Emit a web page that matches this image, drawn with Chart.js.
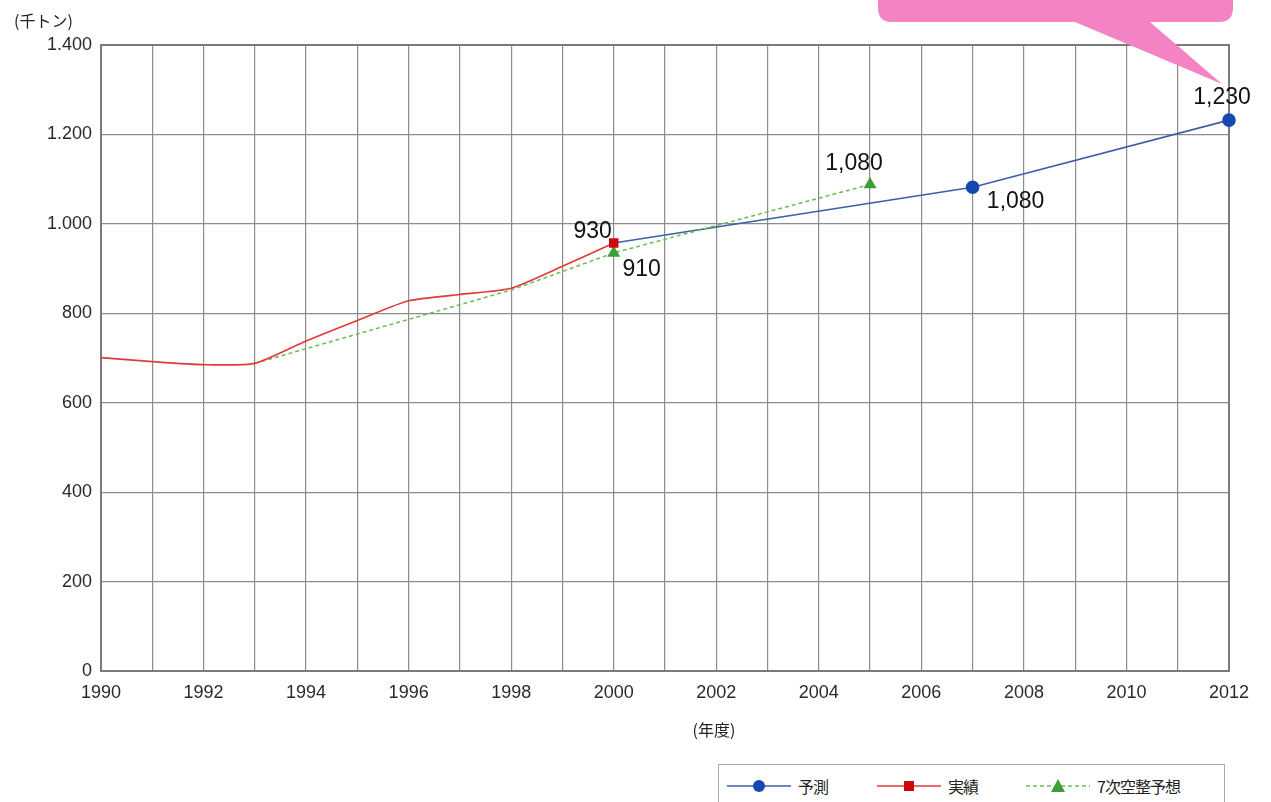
<!DOCTYPE html>
<html><head><meta charset="utf-8">
<script src="https://cdn.jsdelivr.net/npm/chart.js@4"></script>
<style>
html,body{margin:0;padding:0;background:#fff;}
#wrap{position:relative;width:1271px;height:802px;overflow:hidden;}
#legend{position:absolute;left:718px;top:764px;width:507px;height:50px;border:1px solid #aaa;box-sizing:border-box;background:#fff;font-family:"Noto Sans CJK JP","Liberation Sans",sans-serif;font-size:16px;color:#222;}
.li{position:absolute;top:9px;height:24px;display:flex;align-items:center;letter-spacing:-1px;}
.li svg{margin-right:5px;}
</style></head>
<body><div id="wrap"><canvas id="c" width="1271" height="802"></canvas>
<div id="legend"></div></div>
<script>
// ---- data ----
const years = [1990,1991,1992,1993,1994,1995,1996,1997,1998,1999,2000,2001,2002,2003,2004,2005,2006,2007,2008,2009,2010,2011,2012];
const forecastYears = [2000, 2007, 2012];
const forecastValues = [957, 1082, 1232];
const actualYears = [1990,1991,1992,1993,1994,1995,1996,1997,1998,1999,2000];
const actualValues = [701, 692, 685, 688, 738, 784, 828, 842, 856, 905, 957];
const plan7Years = [1993, 1998, 2000, 2005];
const plan7Values = [688, 852, 935, 1088];
const seriesNames = ['予測', '実績', '7次空整予想'];
const yTickValues = [0,200,400,600,800,1000,1200,1400];
const xTickLabels = years.filter(y => y % 2 === 0);
// label texts shown next to points
const forecastLabels = ['', '1,080', '1,230'];
const actualLabels = ['', '', '', '', '', '', '', '', '', '', '930'];
const plan7Labels = ['', '', '910', '1,080'];

const toXY = (xs, vs) => xs.map((x, i) => ({x: x, y: vs[i]}));

const labelPlacement = {
  0: [null, {dx: 43, dy: 14}, {dx: -7, dy: -22}],
  1: {10: {dx: -21, dy: -11}},
  2: [null, null, {dx: 28, dy: 17}, {dx: -16, dy: -21}]
};

const labelPlugin = {
  id: 'labels',
  afterDatasetsDraw(chart) {
    const ctx = chart.ctx;
    const sets = [forecastLabels, actualLabels, plan7Labels];
    ctx.save();
    ctx.font = '23px "Liberation Sans", Arial, sans-serif';
    ctx.fillStyle = '#111';
    ctx.textAlign = 'center';
    ctx.textBaseline = 'middle';
    sets.forEach((labs, di) => {
      const meta = chart.getDatasetMeta(di);
      labs.forEach((t, i) => {
        if (!t) return;
        const p = meta.data[i];
        const off = labelPlacement[di][i];
        ctx.fillText(t, p.x + off.dx, p.y + off.dy);
      });
    });
    ctx.restore();
  }
};

const decoPlugin = {
  id: 'deco',
  beforeDraw(chart) {
    const ctx = chart.ctx;
    ctx.save();
    ctx.fillStyle = '#fff';
    ctx.fillRect(0, 0, chart.width, chart.height);
    ctx.restore();
  },
  beforeDatasetsDraw(chart) {
    const ctx = chart.ctx;
    const a = chart.chartArea;
    ctx.save();
    ctx.strokeStyle = '#7a7a7a';
    ctx.lineWidth = 2;
    ctx.strokeRect(a.left, a.top, a.right - a.left, a.bottom - a.top);
    ctx.restore();
  },
  afterDraw(chart) {
    const ctx = chart.ctx;
    ctx.save();
    // axis titles
    ctx.fillStyle = '#222';
    ctx.font = '16px "Noto Sans CJK JP", sans-serif';
    ctx.textAlign = 'left';
    ctx.textBaseline = 'middle';
    ctx.fillText('(千トン)', 14, 21);
    ctx.textAlign = 'center';
    ctx.fillText('(年度)', 714, 730);
    // pink callout
    ctx.fillStyle = '#F483C4';
    const x0 = 878, x1 = 1233, y0 = -30, y1 = 22, r = 14;
    ctx.beginPath();
    ctx.moveTo(x0 + r, y0);
    ctx.lineTo(x1 - r, y0);
    ctx.quadraticCurveTo(x1, y0, x1, y0 + r);
    ctx.lineTo(x1, y1 - r);
    ctx.quadraticCurveTo(x1, y1, x1 - r, y1);
    ctx.lineTo(1150, y1);
    ctx.lineTo(1222, 84);
    ctx.lineTo(1075, y1);
    ctx.lineTo(x0 + r, y1);
    ctx.quadraticCurveTo(x0, y1, x0, y1 - r);
    ctx.lineTo(x0, y0 + r);
    ctx.quadraticCurveTo(x0, y0, x0 + r, y0);
    ctx.closePath();
    ctx.fill();
    ctx.restore();
  }
};

new Chart(document.getElementById('c'), {
  type: 'line',
  data: {
    datasets: [
      {label: seriesNames[0], data: toXY(forecastYears, forecastValues), borderColor: '#3D5FA8', borderWidth: 1.6, clip: false,
       pointBackgroundColor: '#1549B0', pointBorderColor: '#1549B0', pointRadius: [0, 6, 6], pointStyle: 'circle', tension: 0, order: 3},
      {label: seriesNames[1], data: toXY(actualYears, actualValues), borderColor: '#E23A3A', borderWidth: 1.7, clip: false,
       pointBackgroundColor: '#CC0A0A', pointBorderColor: '#CC0A0A', pointStyle: 'rect',
       pointRadius: actualYears.map((y, i) => i === actualYears.length - 1 ? 5.5 : 0), tension: 0.2, order: 1},
      {label: seriesNames[2], data: toXY(plan7Years, plan7Values), borderColor: '#69BE4F', borderWidth: 1.5, borderDash: [4, 3], clip: false,
       pointBackgroundColor: '#3E9E3A', pointBorderColor: '#3E9E3A', pointStyle: 'triangle', pointRadius: [0, 0, 6, 6], tension: 0, order: 2}
    ]
  },
  options: {
    responsive: false,
    animation: false,
    layout: {padding: {top: 45, right: 42, left: 0, bottom: 0}},
    plugins: {legend: {display: false}, tooltip: {enabled: false}},
    scales: {
      x: {
        type: 'linear', min: years[0], max: years[years.length - 1],
        afterFit(s) { s.height = 131; },
        afterBuildTicks(s) { s.ticks = years.map(v => ({value: v})); },
        grid: {color: '#8c8c8c', lineWidth: 1.2, drawTicks: false},
        border: {display: false},
        ticks: {
          autoSkip: false, maxRotation: 0, padding: 11, color: '#2a2a2a',
          font: {family: '"Liberation Sans", Arial, sans-serif', size: 18},
          callback: v => xTickLabels.includes(v) ? String(v) : ''
        }
      },
      y: {
        min: 0, max: 1400,
        afterFit(s) { s.width = 101; },
        afterBuildTicks(s) { s.ticks = yTickValues.map(v => ({value: v})); },
        grid: {color: '#8c8c8c', lineWidth: 1.2, drawTicks: false},
        border: {display: false},
        ticks: {
          padding: 9, color: '#2a2a2a',
          font: {family: '"Liberation Sans", Arial, sans-serif', size: 18},
          callback: v => v >= 1000 ? Math.floor(v / 1000) + '.' + String(v % 1000).padStart(3, '0') : String(v)
        }
      }
    }
  },
  plugins: [decoPlugin, labelPlugin]
});

// legend
const leg = document.getElementById('legend');
const legItems = [
  {left: 8, name: seriesNames[0], color: '#3D5FA8', mark: '<circle cx="32" cy="12" r="6" fill="#1549B0"/>', dash: ''},
  {left: 158, name: seriesNames[1], color: '#E23A3A', mark: '<rect x="27" y="7" width="10" height="10" fill="#CC0A0A"/>', dash: ''},
  {left: 307, name: seriesNames[2], color: '#69BE4F', mark: '<polygon points="32,5 39,18 25,18" fill="#3E9E3A"/>', dash: ' stroke-dasharray="4 3"'}
];
legItems.forEach(it => {
  const d = document.createElement('div');
  d.className = 'li';
  d.style.left = it.left + 'px';
  d.innerHTML = '<svg width="66" height="24"><line x1="0" y1="12" x2="64" y2="12" stroke="' + it.color + '" stroke-width="1.5"' + it.dash + '/>' + it.mark + '</svg><span>' + it.name + '</span>';
  leg.appendChild(d);
});
</script></body></html>
